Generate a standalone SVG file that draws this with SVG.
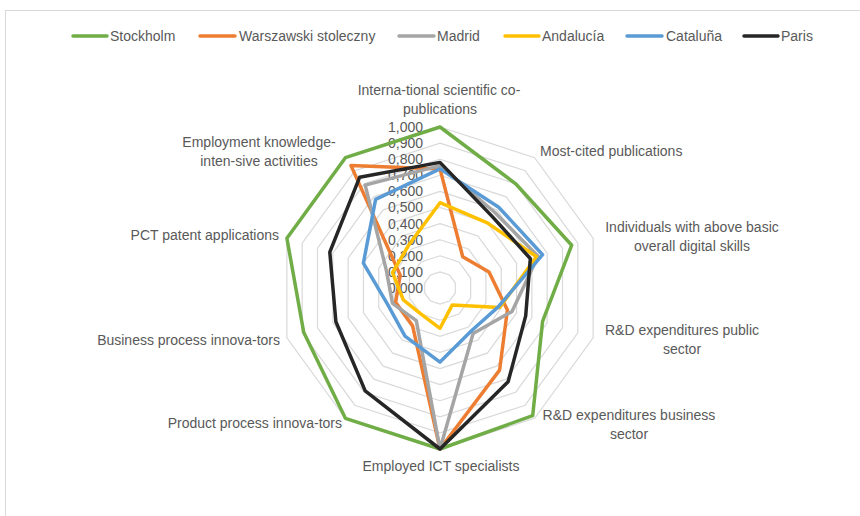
<svg xmlns="http://www.w3.org/2000/svg" width="860" height="516" viewBox="0 0 860 516">
<style>
text{font-family:"Liberation Sans",Arial,sans-serif;font-size:14px;fill:#595959}
.grid{fill:none;stroke:#d9d9d9}
.s{fill:none;stroke-width:3.5;stroke-linejoin:round}
.leg{stroke-width:3.5;stroke-linecap:round}
.tick{text-anchor:end;font-size:14px}
.m{text-anchor:middle}
.e{text-anchor:end}
</style>
<defs>
<polygon id="dec" points="0,-161 94.64,-130.25 153.12,-49.75 153.12,49.75 94.64,130.25 0,161 -94.64,130.25 -153.12,49.75 -153.12,-49.75 -94.64,-130.25"/>
</defs>
<rect x="0" y="0" width="860" height="516" fill="#fff"/>
<rect x="5.5" y="10.5" width="900" height="600" fill="#fff" stroke="#d9d9d9"/>

<g id="legend">
<line class="leg" x1="73" y1="36" x2="107" y2="36" stroke="#70ad47"/><text x="110" y="41">Stockholm</text>
<line class="leg" x1="200" y1="36" x2="235" y2="36" stroke="#ed7d31"/><text x="239" y="41">Warszawski stoleczny</text>
<line class="leg" x1="399" y1="36" x2="434" y2="36" stroke="#a5a5a5"/><text x="437" y="41">Madrid</text>
<line class="leg" x1="505" y1="36" x2="539" y2="36" stroke="#ffc000"/><text x="542" y="41">Andalucía</text>
<line class="leg" x1="627" y1="36" x2="662" y2="36" stroke="#5b9bd5"/><text x="666" y="41">Cataluña</text>
<line class="leg" x1="744" y1="36" x2="778" y2="36" stroke="#262626"/><text x="781" y="41">Paris</text>
</g>

<g id="grid" transform="translate(440,288)">
<use href="#dec" class="grid" transform="scale(0.1)" style="stroke-width:12"/>
<use href="#dec" class="grid" transform="scale(0.2)" style="stroke-width:6"/>
<use href="#dec" class="grid" transform="scale(0.3)" style="stroke-width:4"/>
<use href="#dec" class="grid" transform="scale(0.4)" style="stroke-width:3"/>
<use href="#dec" class="grid" transform="scale(0.5)" style="stroke-width:2.4"/>
<use href="#dec" class="grid" transform="scale(0.6)" style="stroke-width:2"/>
<use href="#dec" class="grid" transform="scale(0.7)" style="stroke-width:1.714"/>
<use href="#dec" class="grid" transform="scale(0.8)" style="stroke-width:1.5"/>
<use href="#dec" class="grid" transform="scale(0.9)" style="stroke-width:1.333"/>
<use href="#dec" class="grid" style="stroke-width:1.2"/>
</g>

<g id="scale">
<text class="tick" x="423" y="293">0,000</text>
<text class="tick" x="423" y="277">0,100</text>
<text class="tick" x="423" y="261">0,200</text>
<text class="tick" x="423" y="245">0,300</text>
<text class="tick" x="423" y="229">0,400</text>
<text class="tick" x="423" y="212">0,500</text>
<text class="tick" x="423" y="196">0,600</text>
<text class="tick" x="423" y="180">0,700</text>
<text class="tick" x="423" y="164">0,800</text>
<text class="tick" x="423" y="148">0,900</text>
<text class="tick" x="423" y="132">1,000</text>
</g>

<g id="series" transform="translate(440,288)">
<polygon id="stockholm" class="s" stroke="#70ad47" points="0,-161 75.7,-104.2 131.7,-42.8 102.6,33.3 92.7,127.6 0,161 -94.6,130.3 -136.3,44.3 -153.1,-49.8 -94.6,-130.3"/>
<polygon id="warszawski" class="s" stroke="#ed7d31" points="0,-119.1 22.7,-31.3 49,-15.9 67.4,21.9 59.6,82.1 0,161 -27.4,37.8 -44.4,14.4 -39.8,-12.9 -89,-122.4"/>
<polygon id="madrid" class="s" stroke="#a5a5a5" points="0,-122.4 54.9,-75.5 98,-31.8 72,23.4 33.1,45.6 0,161 -23.7,32.6 -47.5,15.4 -53.6,-17.4 -74.8,-102.9"/>
<polygon id="andalucia" class="s" stroke="#ffc000" points="0,-85.3 47.3,-65.1 96.5,-31.3 59.7,19.4 12.3,16.9 0,40.3 -18.9,26.1 -36.7,11.9 -47.5,-15.4 -31.2,-43"/>
<polygon id="cataluna" class="s" stroke="#5b9bd5" points="0,-119.1 58.7,-80.8 102.6,-33.3 58.2,18.9 31.2,43 0,74.1 -35,48.2 -52.1,16.9 -76.6,-24.9 -64.4,-88.6"/>
<polygon id="paris" class="s" stroke="#262626" points="0,-125.6 52.1,-71.6 90.3,-29.4 85.7,27.9 68.1,93.8 0,161 -74.8,102.9 -104.1,33.8 -110.2,-35.8 -80.4,-110.7"/>
</g>

<g id="axis-labels">
<text class="m" x="439" y="95">Interna-tional scientific co-</text>
<text class="m" x="440" y="114">publications</text>
<text x="540" y="156">Most-cited publications</text>
<text class="m" x="692" y="232">Individuals with above basic</text>
<text class="m" x="692" y="251">overall digital skills</text>
<text class="m" x="682" y="335">R&amp;D expenditures public</text>
<text class="m" x="682" y="354">sector</text>
<text class="m" x="629" y="420">R&amp;D expenditures business</text>
<text class="m" x="629" y="439">sector</text>
<text class="m" x="441" y="471">Employed ICT specialists</text>
<text class="e" x="342" y="428">Product process innova-tors</text>
<text class="e" x="280" y="345">Business process innova-tors</text>
<text class="e" x="279" y="240">PCT patent applications</text>
<text class="m" x="259" y="147">Employment knowledge-</text>
<text class="m" x="259" y="166">inten-sive activities</text>
</g>
</svg>
